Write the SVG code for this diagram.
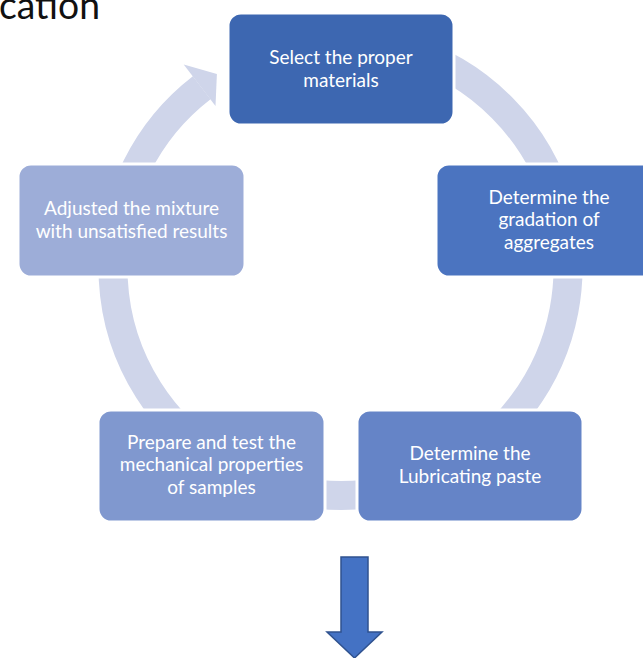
<svg xmlns="http://www.w3.org/2000/svg" width="643" height="658" viewBox="0 0 643 658">
<style>
.node rect{stroke:#ffffff;stroke-width:3}
.node text{font-family:Lato,"Open Sans","Liberation Sans",sans-serif;font-size:19px;fill:#ffffff;text-anchor:middle}
.ring{fill:none;stroke:#cfd5ea;stroke-width:29}
</style>
<rect width="643" height="658" fill="#ffffff"/>
<text x="-1" y="19" font-family="Lato,'Open Sans','Liberation Sans',sans-serif" font-size="38" fill="#111111" textLength="101" lengthAdjust="spacingAndGlyphs">cation</text>
<g id="connectors">
<path class="ring" d="M301.0,43.96 A227.5,227.5 0 1 1 201.7,87.75"/>
<polygon points="183.7,64.4 216.9,74 215.5,106" fill="#cfd5ea"/>
<polygon points="341,557 368,557 368,632 382,632 354.5,658 327,632 341,632" fill="#4472c4" stroke="#2f528f" stroke-width="1.5"/>
</g>
<g id="node1" class="node">
<rect x="228" y="13" width="226" height="112" rx="13" fill="#3d67b1"/>
<text x="341" y="64">Select the proper</text>
<text x="341" y="86.5">materials</text>
</g>
<g id="node2" class="node">
<rect x="436" y="164" width="226" height="113" rx="13" fill="#4b74c0"/>
<text x="549" y="203.5">Determine the</text>
<text x="549" y="226">gradation of</text>
<text x="549" y="248.5">aggregates</text>
</g>
<g id="node3" class="node">
<rect x="357" y="410" width="226" height="112" rx="13" fill="#6584c7"/>
<text x="470" y="460">Determine the</text>
<text x="470" y="483">Lubricating paste</text>
</g>
<g id="node4" class="node">
<rect x="98" y="410" width="227" height="112" rx="13" fill="#8098cf"/>
<text x="211.5" y="448.5">Prepare and test the</text>
<text x="211.5" y="471">mechanical properties</text>
<text x="211.5" y="493.5">of samples</text>
</g>
<g id="node5" class="node">
<rect x="18" y="164" width="227" height="113" rx="13" fill="#9dadd8"/>
<text x="131.5" y="215">Adjusted the mixture</text>
<text x="131.5" y="238">with unsatisfied results</text>
</g>
</svg>
